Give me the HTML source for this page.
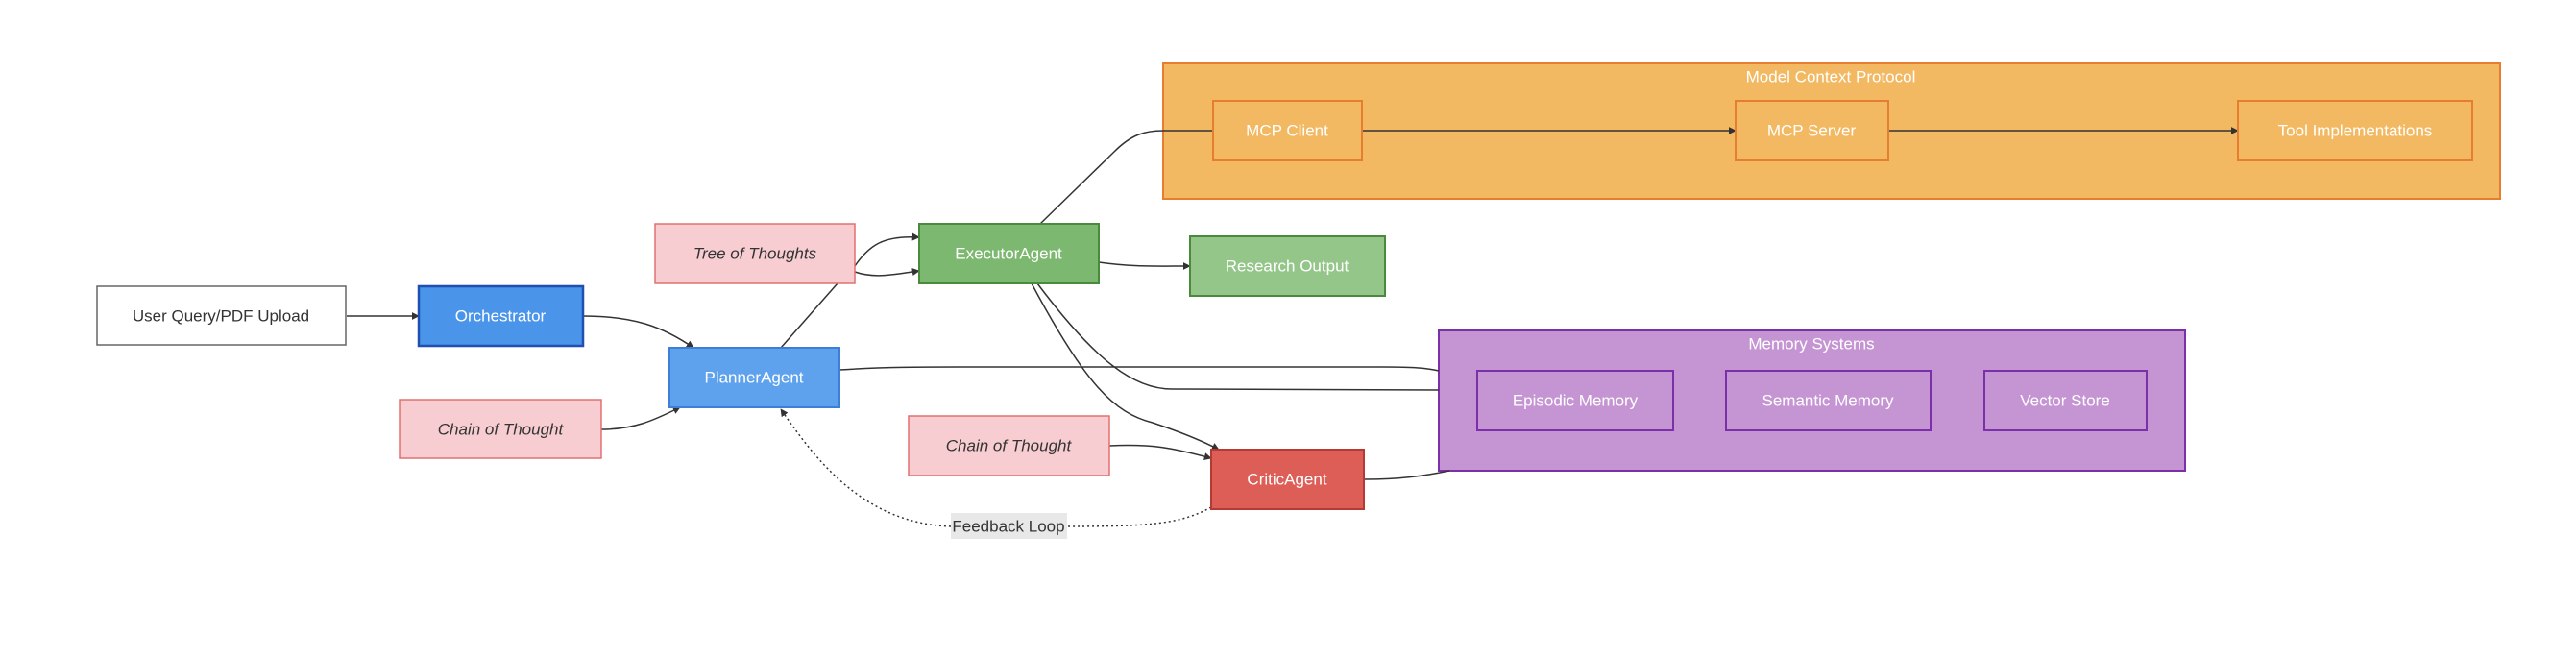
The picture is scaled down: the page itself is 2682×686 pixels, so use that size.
<!DOCTYPE html>
<html><head><meta charset="utf-8"><style>
html,body{margin:0;padding:0;background:#fff;}
svg{display:block;}
text{font-family:"Liberation Sans","DejaVu Sans",sans-serif;font-size:17px;dominant-baseline:central;text-anchor:middle;}
.w{fill:#fff;}
.d{fill:#333;}
.e{fill:none;stroke:#333;stroke-width:1.5;}
</style></head><body>
<svg width="2682" height="686" viewBox="0 0 2682 686" xmlns="http://www.w3.org/2000/svg">
<defs>
<marker id="a" viewBox="0 0 10 10" refX="9" refY="5" markerWidth="8" markerHeight="8" orient="auto-start-reverse" markerUnits="userSpaceOnUse">
<path d="M0,0 L10,5 L0,10 z" fill="#333"/></marker>
</defs>
<!-- clusters -->
<rect x="1211" y="66" width="1392" height="141" fill="#f2b962" stroke="#e67e30" stroke-width="2"/>
<text x="1906" y="80" class="w">Model Context Protocol</text>
<rect x="1498" y="344" width="777" height="146" fill="#c595d3" stroke="#7b2fa8" stroke-width="2"/>
<text x="1886" y="358" class="w">Memory Systems</text>

<!-- edges -->
<path class="e" d="M361,329 L436,329" marker-end="url(#a)"/>
<path class="e" d="M607,329 C660,329 690,340 722,362" marker-end="url(#a)"/>
<path class="e" d="M626,447 C660,447 680,438 708,424" marker-end="url(#a)"/>
<path class="e" d="M813,362 L872,295"/>
<path class="e" d="M890,277 C905,255 920,245 957,247" marker-end="url(#a)"/>
<path class="e" d="M890,283 C910,290 930,286 957,282" marker-end="url(#a)"/>
<path class="e" d="M1083,233 L1160,158 C1178,140 1192,136 1211,136 L1263,136"/>
<path class="e" d="M1418,136 L1807,136" marker-end="url(#a)"/>
<path class="e" d="M1966,136 L2330,136" marker-end="url(#a)"/>
<path class="e" d="M1144,273 C1180,278 1200,277 1239,277" marker-end="url(#a)"/>
<path class="e" d="M874,385 C920,382 960,382 1000,382 L1440,382 C1470,382 1485,383 1498,386"/>
<path class="e" d="M1080,295 C1140,375 1180,405 1220,405 L1498,406"/>
<path class="e" d="M1074,295 C1130,400 1160,430 1200,440 C1230,450 1250,458 1269,468" marker-end="url(#a)"/>
<path class="e" d="M1155,464 C1200,462 1220,466 1261,477" marker-end="url(#a)"/>
<path class="e" d="M1420,499 C1460,499 1485,495 1509,490"/>
<path class="e" stroke-dasharray="2,3" d="M1261,528 C1230,545 1200,548 1111,548"/>
<path class="e" stroke-dasharray="2,3" d="M990,548 C900,545 850,480 813,426" marker-end="url(#a)"/>
<rect x="990" y="534" width="121" height="27" fill="#e8e8e8"/>
<text x="1050" y="548" class="d">Feedback Loop</text>

<!-- nodes -->
<rect x="101" y="298" width="259" height="61" fill="#fff" stroke="#666" stroke-width="1.5"/>
<text x="230" y="329" class="d">User Query/PDF Upload</text>
<rect x="436" y="298" width="171" height="62" fill="#4a94ea" stroke="#1f4fb0" stroke-width="2.5"/>
<text x="521" y="329" class="w">Orchestrator</text>
<rect x="682" y="233" width="208" height="62" fill="#f7cdd2" stroke="#e07070" stroke-width="1.5"/>
<text x="786" y="264" class="d" font-style="italic">Tree of Thoughts</text>
<rect x="697" y="362" width="177" height="62" fill="#5ea2ee" stroke="#3d7fd6" stroke-width="2"/>
<text x="785" y="393" class="w">PlannerAgent</text>
<rect x="416" y="416" width="210" height="61" fill="#f7cdd2" stroke="#e07070" stroke-width="1.5"/>
<text x="521" y="447" class="d" font-style="italic">Chain of Thought</text>
<rect x="957" y="233" width="187" height="62" fill="#7db870" stroke="#4a8a3c" stroke-width="2"/>
<text x="1050" y="264" class="w">ExecutorAgent</text>
<rect x="1239" y="246" width="203" height="62" fill="#94c68a" stroke="#4a8a3c" stroke-width="2"/>
<text x="1340" y="277" class="w">Research Output</text>
<rect x="946" y="433" width="209" height="62" fill="#f7cdd2" stroke="#e07070" stroke-width="1.5"/>
<text x="1050" y="464" class="d" font-style="italic">Chain of Thought</text>
<rect x="1261" y="468" width="159" height="62" fill="#dd5e57" stroke="#b53a33" stroke-width="2"/>
<text x="1340" y="499" class="w">CriticAgent</text>

<rect x="1263" y="105" width="155" height="62" fill="#f2b962" stroke="#e67e30" stroke-width="2"/>
<text x="1340" y="136" class="w">MCP Client</text>
<rect x="1807" y="105" width="159" height="62" fill="#f2b962" stroke="#e67e30" stroke-width="2"/>
<text x="1886" y="136" class="w">MCP Server</text>
<rect x="2330" y="105" width="244" height="62" fill="#f2b962" stroke="#e67e30" stroke-width="2"/>
<text x="2452" y="136" class="w">Tool Implementations</text>

<rect x="1538" y="386" width="204" height="62" fill="#c595d3" stroke="#7b2fa8" stroke-width="2"/>
<text x="1640" y="417" class="w">Episodic Memory</text>
<rect x="1797" y="386" width="213" height="62" fill="#c595d3" stroke="#7b2fa8" stroke-width="2"/>
<text x="1903" y="417" class="w">Semantic Memory</text>
<rect x="2066" y="386" width="169" height="62" fill="#c595d3" stroke="#7b2fa8" stroke-width="2"/>
<text x="2150" y="417" class="w">Vector Store</text>
</svg>
</body></html>
